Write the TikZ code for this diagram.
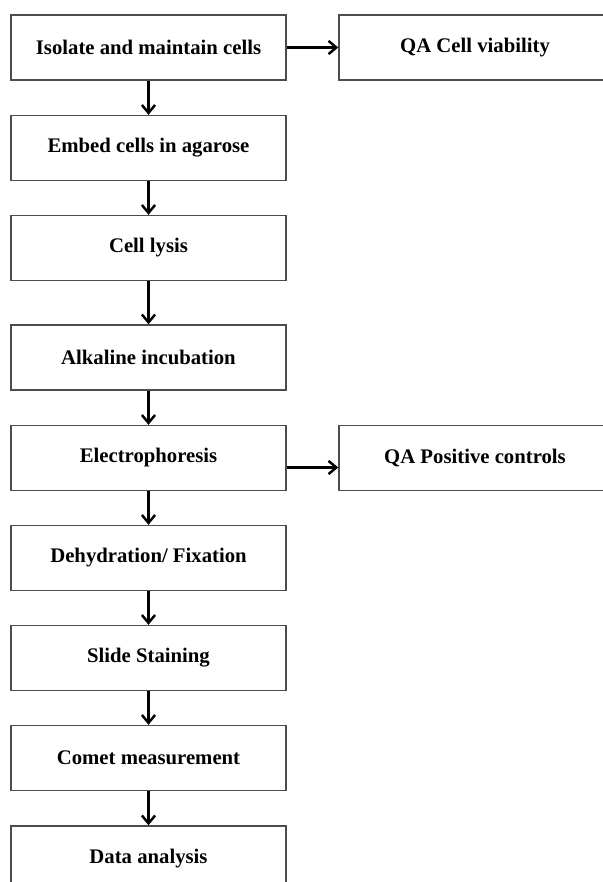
\documentclass[tikz,border=0pt]{standalone}
\usepackage{fontspec}
\setmainfont{Liberation Serif}
\usetikzlibrary{arrows.meta}
\begin{document}
\begin{tikzpicture}[>={Straight Barb[length=4.5pt,width=7.5pt]}, x=0.02cm, y=-0.02cm,
    stepbox/.style={draw=black!70, line width=0.8pt, minimum width=5.5cm, minimum height=1.3cm,
        inner sep=0pt, font=\bfseries\fontsize{11.8}{14}\selectfont},
    qabox/.style={stepbox, minimum width=5.44cm},
    flow/.style={->, line width=1.4pt}]
    \useasboundingbox (0,0) rectangle (602,882);
    % main column
    \node[stepbox] (isolate) at (148.5,47.5) {Isolate and maintain cells};
    \node[stepbox] (embed) at (148.5,148) {Embed cells in agarose};
    \node[stepbox] (lysis) at (148.5,248) {Cell lysis};
    \node[stepbox] (alkaline) at (148.5,357.5) {Alkaline incubation};
    \node[stepbox] (electro) at (148.5,458) {Electrophoresis};
    \node[stepbox] (fixation) at (148.5,558) {Dehydration/ Fixation};
    \node[stepbox] (staining) at (148.5,658) {Slide Staining};
    \node[stepbox] (comet) at (148.5,758) {Comet measurement};
    \node[stepbox] (analysis) at (148.5,858.5) {Data analysis};
    % quality checks
    \node[qabox] (viability) at (475,47.5) {QA Cell viability};
    \node[qabox] (controls) at (475,458) {QA Positive controls};
    \draw[flow] (isolate) -- (embed);
    \draw[flow] (embed) -- (lysis);
    \draw[flow] (lysis) -- (alkaline);
    \draw[flow] (alkaline) -- (electro);
    \draw[flow] (electro) -- (fixation);
    \draw[flow] (fixation) -- (staining);
    \draw[flow] (staining) -- (comet);
    \draw[flow] (comet) -- (analysis);
    \draw[flow] (isolate) -- (viability);
    \draw[flow] ([yshift=-0.19cm]electro.east) -- ([yshift=-0.19cm]controls.west);
\end{tikzpicture}
\end{document}
